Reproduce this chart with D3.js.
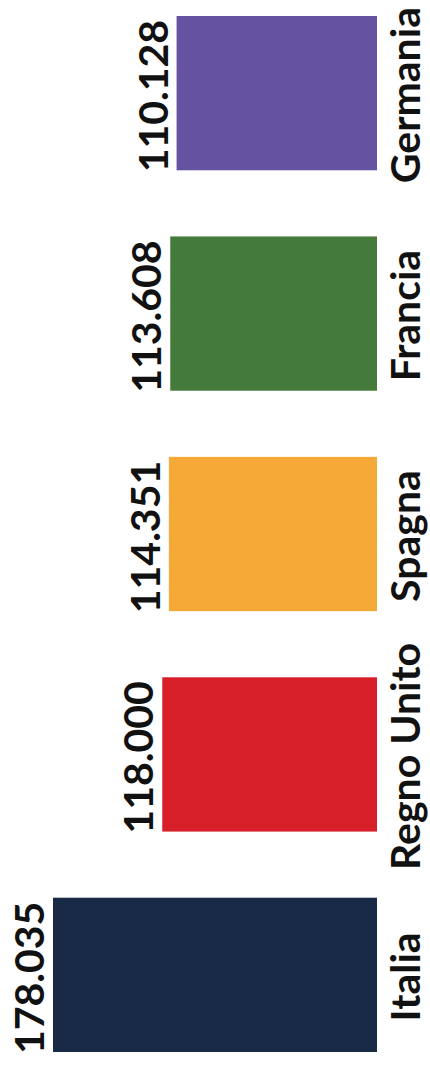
<!DOCTYPE html>
<html>
<head>
<meta charset="utf-8">
<script src="https://cdn.jsdelivr.net/npm/d3@7"></script>
<style>
  html, body { margin: 0; padding: 0; background: #ffffff; }
  svg { display: block; }
</style>
</head>
<body>
<svg id="chart" width="430" height="1075"></svg>
<script>
const categories = ["Germania", "Francia", "Spagna", "Regno Unito", "Italia"];
const values = [110128, 113608, 114351, 118000, 178035];
const valueLabels = ["110.128", "113.608", "114.351", "118.000", "178.035"];
const colors = ["#6453a0", "#447a3a", "#f5a936", "#d61f29", "#182a46"];

const svg = d3.select("#chart");
const baseX = 377;

const y = d3.scaleBand()
  .domain(categories)
  .range([16, 1052])
  .paddingInner(0.3)
  .paddingOuter(0);

const len = d3.scaleLinear()
  .domain([0, 178035])
  .range([0, 324]);

const data = categories.map((c, i) => ({ c, v: values[i], label: valueLabels[i], color: colors[i] }));

svg.selectAll("rect.bar")
  .data(data)
  .join("rect")
  .attr("class", "bar")
  .attr("x", d => baseX - len(d.v))
  .attr("y", d => y(d.c))
  .attr("width", d => len(d.v))
  .attr("height", y.bandwidth())
  .attr("fill", d => d.color);

const font = "Lato, 'Open Sans', sans-serif";

svg.selectAll("text.val")
  .data(data)
  .join("text")
  .attr("class", "val")
  .attr("transform", d => `translate(${baseX - len(d.v) - 9},${y(d.c) + y.bandwidth() / 2 + 3}) rotate(-90)`)
  .attr("text-anchor", "middle")
  .attr("font-family", font)
  .attr("font-weight", 700)
  .attr("font-size", 41)
  .attr("fill", "#111")
  .text(d => d.label);

svg.selectAll("text.cat")
  .data(data)
  .join("text")
  .attr("class", "cat")
  .attr("transform", d => `translate(420,${y(d.c) + y.bandwidth() / 2 + 2}) rotate(-90)`)
  .attr("text-anchor", "middle")
  .attr("font-family", font)
  .attr("font-weight", 700)
  .attr("font-size", 41)
  .attr("fill", "#111")
  .text(d => d.c);
</script>
</body>
</html>
